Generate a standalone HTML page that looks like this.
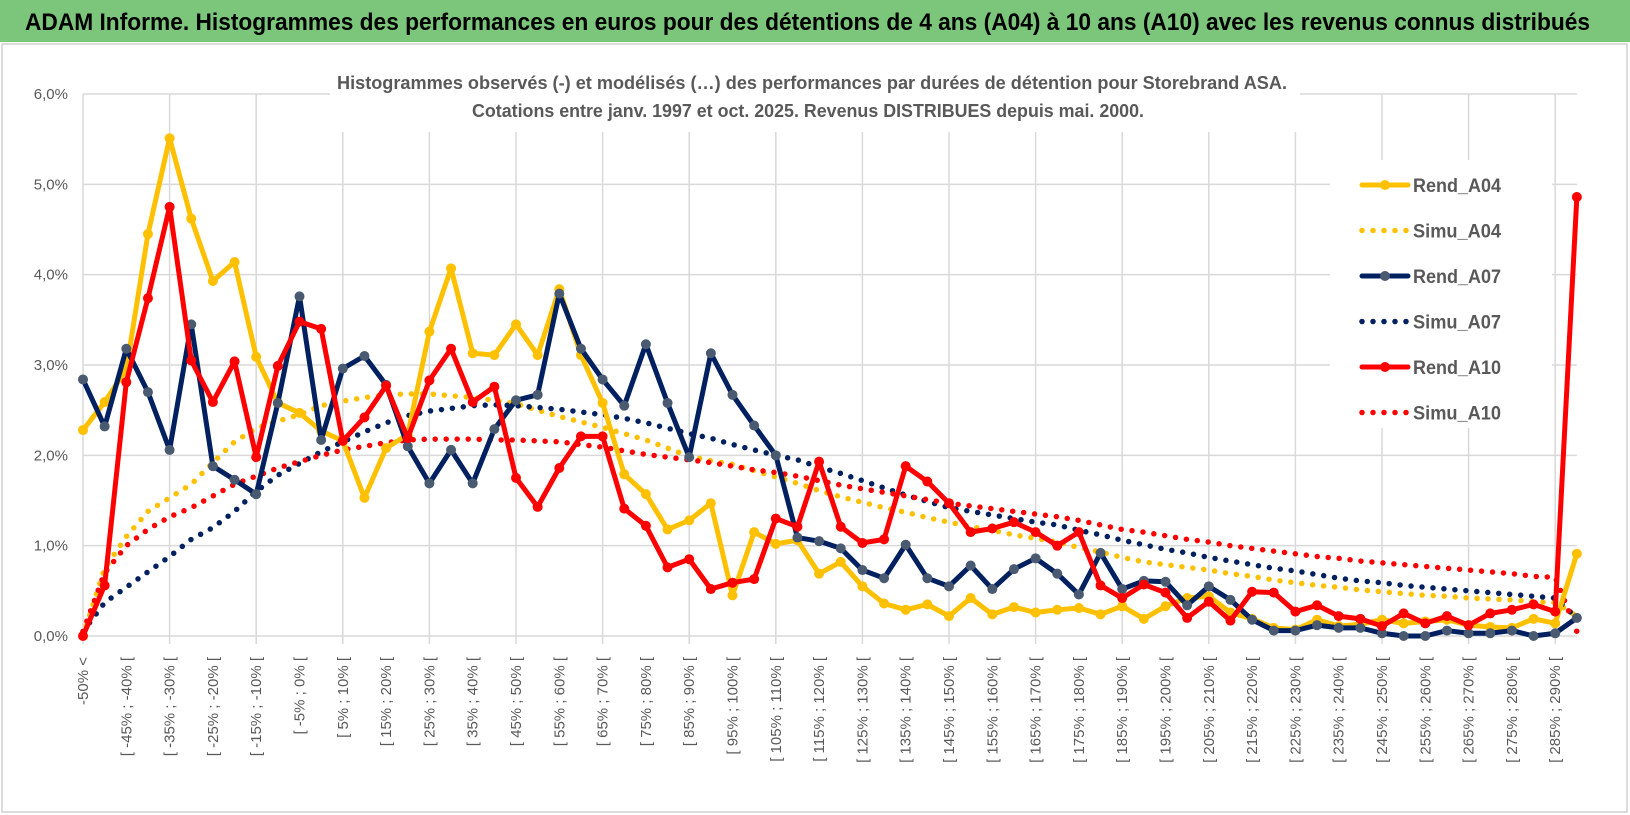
<!DOCTYPE html>
<html><head><meta charset="utf-8">
<style>
html,body{margin:0;padding:0;background:#fff;}
svg{display:block;font-family:"Liberation Sans",sans-serif;}
</style></head>
<body>
<svg id="chart" width="1630" height="815" viewBox="0 0 1630 815" xmlns="http://www.w3.org/2000/svg">
<rect x="0" y="0" width="1630" height="815" fill="#fff"/>
<rect x="2" y="44" width="1625" height="768" fill="none" stroke="#d0d0d0" stroke-width="1.5"/>
<rect x="0" y="0" width="1630" height="42" fill="#7cc67c"/>
<text x="25" y="30" font-size="24" font-weight="bold" fill="#000" textLength="1565" lengthAdjust="spacingAndGlyphs">ADAM Informe. Histogrammes des performances en euros pour des détentions de 4 ans (A04) à 10 ans (A10) avec les revenus connus distribués</text>
<g id="grid"></g>
<rect x="330" y="60" width="970" height="72" fill="#fff"/>
<text x="812" y="89" text-anchor="middle" font-size="18" font-weight="bold" fill="#595959" textLength="950" lengthAdjust="spacingAndGlyphs">Histogrammes observés (-) et modélisés (…) des performances par durées de détention pour Storebrand ASA.</text>
<text x="808" y="117" text-anchor="middle" font-size="18" font-weight="bold" fill="#595959" textLength="672" lengthAdjust="spacingAndGlyphs">Cotations entre janv. 1997 et oct. 2025. Revenus DISTRIBUES depuis mai. 2000.</text>
<g id="axes"></g>
<g id="series"></g>
<g id="legend"></g>
</svg>
<script>
const yTicks = [0,1,2,3,4,5,6];
const rendA04 = [2.28,2.59,2.95,4.45,5.51,4.62,3.93,4.14,3.09,2.58,2.47,2.27,2.16,1.53,2.08,2.23,3.37,4.07,3.13,3.11,3.45,3.11,3.84,3.11,2.58,1.79,1.57,1.18,1.28,1.47,0.45,1.15,1.02,1.06,0.69,0.82,0.55,0.36,0.29,0.35,0.22,0.42,0.24,0.32,0.26,0.29,0.31,0.24,0.33,0.19,0.33,0.42,0.44,0.26,0.19,0.09,0.07,0.18,0.11,0.13,0.18,0.14,0.16,0.18,0.12,0.10,0.09,0.19,0.14,0.91];
const simuA04 = [0,0.75,1.1,1.38,1.53,1.68,1.92,2.15,2.3,2.38,2.45,2.55,2.6,2.64,2.67,2.68,2.68,2.66,2.64,2.61,2.57,2.5,2.43,2.37,2.31,2.24,2.17,2.08,1.99,1.94,1.9,1.83,1.76,1.69,1.61,1.54,1.48,1.42,1.37,1.31,1.26,1.21,1.17,1.12,1.08,1.04,0.98,0.93,0.87,0.82,0.79,0.76,0.73,0.69,0.66,0.62,0.59,0.56,0.54,0.51,0.49,0.47,0.45,0.44,0.42,0.41,0.4,0.38,0.37,0.22];
const rendA07 = [2.84,2.32,3.18,2.70,2.06,3.45,1.88,1.73,1.57,2.58,3.76,2.17,2.96,3.10,2.78,2.10,1.69,2.06,1.69,2.29,2.61,2.67,3.79,3.18,2.84,2.55,3.23,2.58,1.98,3.13,2.67,2.33,2.00,1.09,1.05,0.97,0.73,0.64,1.01,0.64,0.55,0.78,0.52,0.74,0.86,0.69,0.46,0.92,0.52,0.61,0.60,0.34,0.55,0.40,0.18,0.06,0.06,0.12,0.09,0.09,0.03,0.0,0.0,0.06,0.03,0.03,0.06,0.0,0.03,0.2];
const simuA07 = [0.05,0.37,0.54,0.71,0.88,1.07,1.2,1.38,1.6,1.78,1.91,2.04,2.15,2.26,2.36,2.44,2.49,2.52,2.55,2.56,2.55,2.53,2.51,2.48,2.45,2.41,2.36,2.3,2.24,2.19,2.12,2.06,2.0,1.95,1.87,1.8,1.72,1.64,1.56,1.49,1.42,1.38,1.34,1.3,1.26,1.23,1.17,1.12,1.06,1.01,0.96,0.92,0.87,0.83,0.79,0.75,0.72,0.68,0.64,0.61,0.59,0.56,0.54,0.52,0.5,0.48,0.46,0.44,0.42,0.2];
const rendA10 = [0,0.56,2.81,3.74,4.75,3.05,2.59,3.04,1.98,2.99,3.48,3.40,2.16,2.42,2.77,2.19,2.83,3.18,2.59,2.76,1.75,1.43,1.86,2.21,2.21,1.41,1.22,0.76,0.85,0.52,0.59,0.63,1.30,1.21,1.93,1.21,1.03,1.07,1.88,1.71,1.47,1.15,1.19,1.26,1.15,1.00,1.15,0.56,0.42,0.57,0.48,0.20,0.38,0.17,0.49,0.48,0.27,0.34,0.22,0.19,0.11,0.25,0.14,0.22,0.12,0.25,0.29,0.35,0.27,4.86];
const simuA10 = [0.05,0.7,1.0,1.18,1.32,1.42,1.55,1.68,1.77,1.86,1.93,2.0,2.06,2.1,2.14,2.17,2.18,2.18,2.18,2.17,2.17,2.16,2.15,2.12,2.09,2.05,2.01,1.98,1.95,1.92,1.88,1.84,1.81,1.77,1.72,1.67,1.63,1.59,1.55,1.51,1.47,1.44,1.41,1.38,1.35,1.32,1.28,1.23,1.18,1.15,1.11,1.07,1.04,1.0,0.97,0.94,0.91,0.88,0.86,0.83,0.81,0.79,0.77,0.75,0.73,0.71,0.69,0.66,0.65,0.05];
const categories = rendA04.map((_, k) => k === 0 ? "-50% <" : "[ " + (-55 + 5*k) + "% ; " + (-50 + 5*k) + "% [");
const seriesNames = ["Rend_A04","Simu_A04","Rend_A07","Simu_A07","Rend_A10","Simu_A10"];

const NS = "http://www.w3.org/2000/svg";
const X0 = 83, STEP = 21.65, Y0 = 636, YPER = 90.33;
function xs(i){ return X0 + i*STEP; }
function ys(v){ return Y0 - v*YPER; }
function mk(tag, attrs, parent){
  const e = document.createElementNS(NS, tag);
  for (const k in attrs) e.setAttribute(k, attrs[k]);
  parent.appendChild(e);
  return e;
}
const grid = document.getElementById('grid');
const axes = document.getElementById('axes');
const series = document.getElementById('series');
const legend = document.getElementById('legend');
const xEnd = xs(categories.length - 1);

yTicks.forEach(t => {
  const l = mk('line', {x1: X0, x2: xEnd, y1: ys(t), y2: ys(t), stroke: '#d9d9d9', 'stroke-width': 1.5}, grid);
  
  
  const tx = mk('text', {x: 68, y: ys(t) + 5, 'text-anchor': 'end', 'font-size': 15, fill: '#595959'}, axes);
  tx.textContent = t.toFixed(1).replace('.', ',') + '%';
  
  
});
for (let i = 0; i < categories.length; i += 4) {
  const l = mk('line', {x1: xs(i), x2: xs(i), y1: ys(6), y2: Y0 + 8, stroke: '#d9d9d9', 'stroke-width': 1.5}, grid);
  
  
}
categories.forEach((c, i) => {
  if (i % 2) return;
  const tx = mk('text', {x: 0, y: 0, 'text-anchor': 'end', 'font-size': 15, fill: '#595959',
    transform: 'translate(' + (xs(i) + 5) + ',' + 657 + ') rotate(-90)'}, axes);
  tx.textContent = c;
  
  
});

function drawSolid(data, color, markerColor, name){
  const g = mk('g', {}, series);
  
  
  const pl = mk('polyline', {points: data.map((v,i)=>xs(i)+','+ys(v)).join(' '), fill:'none', stroke: color, 'stroke-width': 5, 'stroke-linejoin':'round'}, g);
  
  
  data.forEach((v,i) => {
    const c = mk('circle', {cx: xs(i), cy: ys(v), r: 5, fill: markerColor}, g);
    
    
  });
}
function drawDotted(data, color, name){
  const pl = mk('polyline', {points: data.map((v,i)=>xs(i)+','+ys(v)).join(' '), fill:'none', stroke: color, 'stroke-width': 5.5, 'stroke-linecap':'round', 'stroke-dasharray':'0 11'}, series);
  
  
}
drawDotted(simuA04, '#ffc000', 'simu-a04');
drawDotted(simuA07, '#002060', 'simu-a07');
drawDotted(simuA10, '#ff0000', 'simu-a10');
drawSolid(rendA04, '#ffc000', '#ffc000', 'rend-a04');
drawSolid(rendA07, '#002060', '#4a5a70', 'rend-a07');
drawSolid(rendA10, '#ff0000', '#ff0000', 'rend-a10');

// legend
const lb = mk('rect', {x: 1330, y: 160, width: 222, height: 268, fill: '#fff'}, legend);


const legColors = ['#ffc000','#ffc000','#002060','#002060','#ff0000','#ff0000'];
const legMarkers = ['#ffc000',null,'#4a5a70',null,'#ff0000',null];
seriesNames.forEach((n, k) => {
  const y = 185 + k*45.5;
  const g = mk('g', {}, legend);
  
  
  if (legMarkers[k]) {
    mk('line', {x1: 1362, x2: 1408, y1: y, y2: y, stroke: legColors[k], 'stroke-width': 5, 'stroke-linecap':'round'}, g);
    mk('circle', {cx: 1385, cy: y, r: 5, fill: legMarkers[k]}, g);
  } else {
    mk('line', {x1: 1362, x2: 1408, y1: y, y2: y, stroke: legColors[k], 'stroke-width': 5.5, 'stroke-linecap':'round', 'stroke-dasharray':'0 11'}, g);
  }
  const t = mk('text', {x: 1413, y: y + 7, 'font-size': 19, 'font-weight': 'bold', fill: '#595959', textLength: 88, lengthAdjust: 'spacingAndGlyphs'}, g);
  t.textContent = n;
});
</script>
</body></html>
